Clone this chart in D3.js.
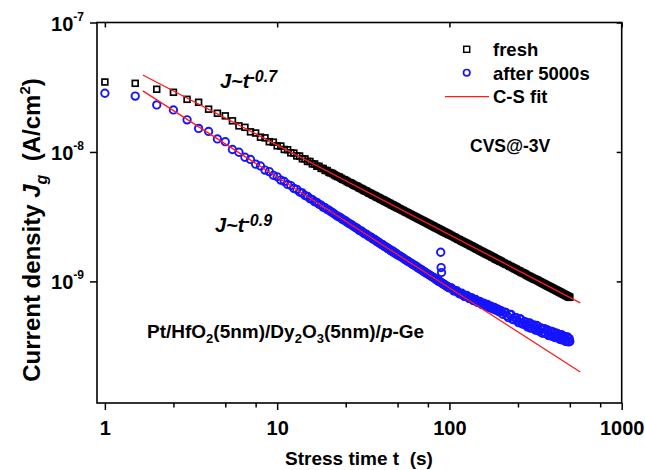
<!DOCTYPE html>
<html>
<head>
<meta charset="utf-8">
<script src="https://cdn.jsdelivr.net/npm/d3@7"></script>
<style>
  html, body { margin: 0; padding: 0; background: #fff; }
  svg text { font-family: "Liberation Sans", Arial, Helvetica, sans-serif; font-weight: bold; fill: #000; }
</style>
</head>
<body>
<svg id="chart" width="645" height="470"></svg>
<script>
// Stress time samples (s)
const stressTime = [
  1, 1.5, 2, 2.5, 3, 3.5, 4, 4.5, 5, 5.5, 6, 6.5, 7, 7.5, 8, 8.5, 9, 9.5, 10,
  10.5, 11, 11.5, 12, 12.5, 13, 13.5, 14, 14.5, 15, 15.5, 16, 16.5, 17, 17.5, 18, 18.5, 19, 19.5, 20,
  21, 22, 23, 24, 25, 26, 27, 28, 29, 30, 31, 32, 33, 34, 35, 36, 37, 38, 39, 40,
  41, 42, 43, 44, 45, 46, 47, 48, 49, 50,
  52, 54, 56, 58, 60, 62, 64, 66, 68, 70, 72, 74, 76, 78, 80, 82, 84, 86, 88, 90, 92, 94, 96, 98, 100,
  104, 108, 112, 116, 120, 124, 128, 132, 136, 140, 144, 148, 152, 156, 160, 164, 168, 172, 176, 180,
  184, 188, 192, 196, 200,
  208, 216, 224, 232, 240, 248, 256, 264, 272, 280, 288, 296, 304, 312, 320, 328, 336, 344, 352, 360,
  368, 376, 384, 392, 400, 408, 416, 424, 432, 440, 448, 456, 464, 472, 480, 488, 496, 500
];

// Gate current density, fresh stack (units of 1e-10 A/cm^2)
const freshJ = [
  347, 339, 305, 289, 255, 242, 214, 199, 190, 174, 159, 155, 143, 140, 130, 128.5, 120, 119, 111.5,
  111, 104.5, 104, 98.5, 98, 93.2, 93, 88.6, 88.4, 84.5, 84.4, 80.9, 80.8, 77.6, 77.5, 74.7, 74.5, 72.0, 71.8, 69.5,
  68.0, 65.3, 63.9, 61.5, 60.2, 58.2, 57.1, 55.3, 54.4, 52.7, 51.9, 50.4, 49.7, 48.3, 47.6, 46.4, 45.8, 44.7, 44.2, 43.2,
  42.7, 41.8, 41.3, 40.5, 40.0, 39.2, 38.8, 38.1, 37.7, 37.0,
  36.1, 35.2, 34.3, 33.5, 32.7, 32.0, 31.3, 30.6, 30.0, 29.4, 28.8, 28.3, 27.8, 27.3, 26.8, 26.3, 25.9, 25.5, 25.1, 24.7,
  24.3, 24.0, 23.6, 23.3, 23.0,
  22.35, 21.8, 21.2, 20.7, 20.2, 19.8, 19.4, 18.9, 18.6, 18.2, 17.8, 17.5, 17.2, 16.9, 16.6, 16.3, 16.0, 15.8, 15.5, 15.3,
  15.0, 14.8, 14.6, 14.4, 14.2,
  13.8, 13.5, 13.1, 12.8, 12.5, 12.2, 12.0, 11.7, 11.5, 11.2, 11.0, 10.8, 10.6, 10.4, 10.3, 10.1, 9.92, 9.75, 9.60, 9.45,
  9.31, 9.17, 9.04, 8.91, 8.78, 8.67, 8.55, 8.44, 8.33, 8.23, 8.12, 8.02, 7.93, 7.83, 7.74, 7.65, 7.57, 7.53
];

// Gate current density after 5000 s of stress (units of 1e-10 A/cm^2)
const afterJ = [
  284, 270, 231, 211, 177, 152, 144, 126, 120, 104.5, 99.5, 91.0, 87.5, 80.5, 77.9, 72.4, 70.5, 66.0, 64.3,
  60.6, 59.2, 56.1, 55.0, 52.3, 51.4, 49.0, 48.2, 46.1, 45.4, 43.6, 42.9, 41.3, 40.8, 39.4, 38.8, 37.5, 37.1, 35.9, 35.5,
  33.9, 32.4, 31.4, 30.1, 29.3, 28.1, 27.4, 26.4, 25.8, 24.8, 24.4, 23.5, 23.1, 22.3, 22.0, 21.3, 21.0, 20.3, 20.0, 19.4,
  19.2, 18.6, 18.4, 17.9, 17.7, 17.2, 17.1, 16.6, 16.5, 16.0,
  15.6, 15.1, 14.6, 14.2, 13.8, 13.4, 13.1, 12.7, 12.4, 12.1, 11.8, 11.5, 11.3, 11.0, 10.8, 10.6, 10.3, 10.1, 9.94, 9.75,
  9.57, 9.40, 9.23, 9.07, 8.91,
  8.74, 8.43, 8.29, 8.01, 7.90, 7.68, 7.62, 7.38, 7.35, 7.12, 7.10, 6.91, 6.87, 6.66, 6.68, 6.49, 6.52, 6.32, 6.33, 6.15,
  6.20, 6.01, 6.03, 5.84, 5.88,
  5.78, 5.42, 5.57, 5.11, 5.25, 4.99, 5.15, 4.71, 4.88, 4.58, 4.76, 4.35, 4.60, 4.32, 4.57, 4.16, 4.32, 4.01, 4.30, 4.00,
  4.24, 3.83, 4.07, 3.79, 4.08, 3.71, 3.92, 3.67, 3.90, 3.56, 3.86, 3.54, 3.73, 3.45, 3.71, 3.43, 3.62, 3.44
];

// Interleaved readings in the dense part of the record (s)
const stressTimeB = [
  20.5, 21.5, 22.5, 23.5, 24.5, 25.5, 26.5, 27.5, 28.5, 29.5, 30.5, 31.5, 32.5, 33.5, 34.5,
  35.5, 36.5, 37.5, 38.5, 39.5, 40.5, 41.5, 42.5, 43.5, 44.5, 45.5, 46.5, 47.5, 48.5, 49.5,
  51, 53, 55, 57, 59, 61, 63, 65, 67, 69, 71, 73, 75, 77, 79, 81, 83, 85, 87, 89, 91, 93, 95, 97, 99,
  102, 106, 110, 114, 118, 122, 126, 130, 134, 138, 142, 146, 150, 154, 158, 162, 166, 170, 174, 178,
  182, 186, 190, 194, 198,
  204, 212, 220, 228, 236, 244, 252, 260, 268, 276, 284, 292, 300, 308, 316, 324, 332, 340, 348, 356,
  364, 372, 380, 388, 396, 404, 412, 420, 428, 436, 444, 452, 460, 468, 476, 484, 492
];
const freshJB = [
  68.9, 66.5, 64.5, 62.6, 60.9, 59.1, 57.7, 56.2, 54.8, 53.6, 52.3, 51.1, 50.0, 49.0, 48.0,
  47.0, 46.2, 45.3, 44.5, 43.7, 42.9, 42.3, 41.5, 40.9, 40.2, 39.6, 39.0, 38.4, 37.9, 37.4,
  36.6, 35.6, 34.7, 33.9, 33.1, 32.3, 31.6, 30.9, 30.3, 29.7, 29.1, 28.6, 28.0, 27.5, 27.0,
  26.6, 26.1, 25.7, 25.3, 24.9, 24.5, 24.1, 23.8, 23.5, 23.1,
  22.7, 22.1, 21.5, 21.0, 20.5, 20.0, 19.6, 19.2, 18.8, 18.4, 18.0, 17.7, 17.3, 17.0, 16.7,
  16.4, 16.2, 15.9, 15.7, 15.4, 15.2, 14.9, 14.7, 14.5, 14.3,
  14.0, 13.6, 13.3, 13.0, 12.7, 12.4, 12.1, 11.8, 11.6, 11.4, 11.1, 10.9, 10.7, 10.5, 10.35,
  10.2, 10.0, 9.84, 9.68, 9.52, 9.38, 9.24, 9.10, 8.98, 8.85, 8.72, 8.61, 8.50, 8.39, 8.28,
  8.18, 8.07, 7.98, 7.88, 7.79, 7.70, 7.61
];
const afterJB = [
  34.6, 33.2, 31.8, 30.8, 29.7, 28.7, 27.8, 26.9, 26.1, 25.3, 24.6, 23.9, 23.3, 22.7, 22.1,
  21.6, 21.1, 20.6, 20.2, 19.7, 19.3, 18.9, 18.5, 18.1, 17.8, 17.4, 17.1, 16.8, 16.5, 16.2,
  15.85, 15.35, 14.85, 14.4, 14.0, 13.6, 13.25, 12.9, 12.55, 12.25, 11.95, 11.65, 11.4, 11.15, 10.9,
  10.7, 10.45, 10.2, 10.0, 9.85, 9.66, 9.48, 9.31, 9.15, 8.99,
  8.95, 8.45, 8.50, 8.02, 8.10, 7.66, 7.80, 7.38, 7.50, 7.10, 7.25, 6.88, 7.02, 6.65, 6.80,
  6.47, 6.63, 6.30, 6.45, 6.13, 6.30, 5.99, 6.13, 5.82, 5.97,
  5.57, 5.77, 5.25, 5.55, 5.05, 5.25, 4.80, 5.10, 4.68, 4.86, 4.44, 4.78, 4.37, 4.62, 4.20,
  4.54, 4.13, 4.38, 3.98, 4.31, 3.94, 4.17, 3.81, 4.13, 3.78, 4.02, 3.68, 3.99, 3.65, 3.88,
  3.55, 3.84, 3.52, 3.74, 3.44, 3.73, 3.41
];

// Isolated readings of the stressed sample around t = 90 s
const spikeTime = [89, 89.5, 90];
const spikeJ = [16.8, 12.8, 11.7];

// Curie-von Schweidler fits J = A * t^-n
const fitPrefactor = [5.585e-8, 4.57e-8];   // A/cm^2
const fitExponent = [0.693, 0.855];
const fitSpan = [1.66, 575];                  // s

const xTicks = [1, 10, 100, 1000];
const xMinorTicks = [2.5, 5, 7.5, 25, 50, 75, 250, 500, 750];
const yTickExponents = [-7, -8, -9];

const legendLabels = ["fresh", "after 5000s", "C-S fit"];

const JUNIT = 1e-10;

const svg = d3.select("#chart");
const plotL = 97, plotR = 621.7, plotT = 22.5, plotB = 403;

const x = d3.scaleLog().domain([0.9, 1000]).range([plotL, plotR]);
const y = d3.scaleLog().domain([1.15e-10, 1e-7]).range([plotB, plotT]);

// ---- axes --------------------------------------------------------------
const tickStroke = 1.5;
function styleAxis(g) {
  g.select(".domain").remove();
  g.selectAll(".tick line").attr("stroke", "#000").attr("stroke-width", tickStroke);
}

// bottom: labelled majors + outward minors
const xAxisB = svg.append("g").attr("transform", `translate(0,${plotB})`)
  .call(d3.axisBottom(x).tickValues(xTicks).tickSize(7).tickFormat(d3.format("d")))
  .call(styleAxis);
xAxisB.selectAll(".tick text")
  .attr("y", 0).attr("dy", null)
  .attr("transform", "translate(0,32)")
  .attr("fill", "#000")
  .style("font-size", "20px");
svg.append("g").attr("transform", `translate(0,${plotB})`)
  .call(d3.axisBottom(x).tickValues(xMinorTicks).tickSize(4.5).tickFormat(""))
  .call(styleAxis);

// top: inward majors
svg.append("g").attr("transform", `translate(0,${plotT})`)
  .call(d3.axisBottom(x).tickValues(xTicks).tickSize(5).tickFormat(""))
  .call(styleAxis);

// left: outward majors with power-of-ten labels
const yTickVals = yTickExponents.map(e => Math.pow(10, e));
svg.append("g").attr("transform", `translate(${plotL},0)`)
  .call(d3.axisLeft(y).tickValues(yTickVals).tickSize(7).tickFormat(""))
  .call(styleAxis);
yTickExponents.forEach(e => {
  const t = svg.append("text")
    .attr("x", 84).attr("y", y(Math.pow(10, e)) + 8)
    .attr("text-anchor", "end")
    .style("font-size", "20px");
  t.append("tspan").text("10");
  t.append("tspan").attr("dy", -10).style("font-size", "12px").text(String(e));
});

// right: inward majors
svg.append("g").attr("transform", `translate(${plotR},0)`)
  .call(d3.axisLeft(y).tickValues(yTickVals).tickSize(5).tickFormat(""))
  .call(styleAxis);

// frame
svg.append("rect")
  .attr("x", plotL).attr("y", plotT)
  .attr("width", plotR - plotL).attr("height", plotB - plotT)
  .attr("fill", "none").attr("stroke", "#000").attr("stroke-width", 1.6);

// ---- data ---------------------------------------------------------------
const plot = svg.append("g");
const sq = 5.8;

const freshPts = stressTime.map((t, i) => [t, freshJ[i] * JUNIT])
  .concat(stressTimeB.map((t, i) => [t, freshJB[i] * JUNIT]));
plot.append("g").selectAll("rect").data(freshPts).join("rect")
  .attr("x", d => x(d[0]) - sq / 2).attr("y", d => y(d[1]) - sq / 2)
  .attr("width", sq).attr("height", sq)
  .attr("fill", "none").attr("stroke", "#000").attr("stroke-width", 1.7);

const afterPts = stressTime.map((t, i) => [t, afterJ[i] * JUNIT])
  .concat(stressTimeB.map((t, i) => [t, afterJB[i] * JUNIT]))
  .concat(spikeTime.map((t, i) => [t, spikeJ[i] * JUNIT]));
plot.append("g").selectAll("circle").data(afterPts).join("circle")
  .attr("cx", d => x(d[0])).attr("cy", d => y(d[1])).attr("r", 3.7)
  .attr("fill", "none").attr("stroke", "#1414ff").attr("stroke-width", 1.9);

// fit lines
const line = d3.line().x(d => x(d[0])).y(d => y(d[1]));
fitPrefactor.forEach((A, i) => {
  const n = fitExponent[i];
  const pts = fitSpan.map(t => [t, A * Math.pow(t, -n)]);
  plot.append("path").attr("d", line(pts))
    .attr("fill", "none").attr("stroke", "#ff1a1a").attr("stroke-width", 1.3);
});

// ---- annotations --------------------------------------------------------
function powerLabel(px, py, n) {
  const t = svg.append("text").attr("x", px).attr("y", py)
    .style("font-size", "20px").style("font-style", "italic");
  t.append("tspan").text("J~t");
  t.append("tspan").attr("dy", -6).style("font-size", "16px").text("-" + d3.format(".1f")(n));
}
powerLabel(220, 88, fitExponent[0]);
powerLabel(215, 232, fitExponent[1]);

svg.append("text").attr("x", 470).attr("y", 152).style("font-size", "17.5px").text("CVS@-3V");

// layer stack: [text, baseline shift, italic]
const stackParts = [
  ["Pt/HfO", 0, false], ["2", 5, false], ["(5nm)/Dy", -5, false], ["2", 5, false],
  ["O", -5, false], ["3", 5, false], ["(5nm)/", -5, false], ["p", 0, true], ["-Ge", 0, false]
];
const stack = svg.append("text").attr("x", 147).attr("y", 338).style("font-size", "19px");
stackParts.forEach(([s, dy, it]) => {
  const ts = stack.append("tspan").text(s);
  if (dy !== 0) ts.attr("dy", dy);
  if (dy > 0) ts.style("font-size", "13px");
  if (it) ts.style("font-style", "italic");
});

// ---- legend -------------------------------------------------------------
const lg = svg.append("g");
lg.append("rect").attr("x", 466.7 - 3).attr("y", 49.3 - 3).attr("width", 6).attr("height", 6)
  .attr("fill", "none").attr("stroke", "#000").attr("stroke-width", 1.5);
lg.append("circle").attr("cx", 466.7).attr("cy", 72.7).attr("r", 3.2)
  .attr("fill", "none").attr("stroke", "#1414ff").attr("stroke-width", 1.7);
lg.append("line").attr("x1", 445).attr("x2", 489).attr("y1", 96.7).attr("y2", 96.7)
  .attr("stroke", "#ff1a1a").attr("stroke-width", 1.3);
legendLabels.forEach((s, i) => {
  lg.append("text").attr("x", 493).attr("y", 49.3 + i * 23.7 + 6.5)
    .style("font-size", "18.5px").text(s);
});

// ---- axis titles --------------------------------------------------------
svg.append("text").attr("x", 359).attr("y", 465).attr("text-anchor", "middle")
  .style("font-size", "19px").style("white-space", "pre").text("Stress time t  (s)");

const yt = svg.append("text").attr("transform", "translate(40,230) rotate(-90)")
  .attr("text-anchor", "middle").style("font-size", "24px").style("white-space", "pre");
yt.append("tspan").text("Current density ");
yt.append("tspan").style("font-style", "italic").text("J");
yt.append("tspan").attr("dy", 7).style("font-style", "italic").style("font-size", "16px").text("g");
yt.append("tspan").attr("dy", -7).text("  (A/cm");
yt.append("tspan").attr("dy", -10).style("font-size", "15px").text("2");
yt.append("tspan").attr("dy", 10).text(")");
</script>
</body>
</html>
